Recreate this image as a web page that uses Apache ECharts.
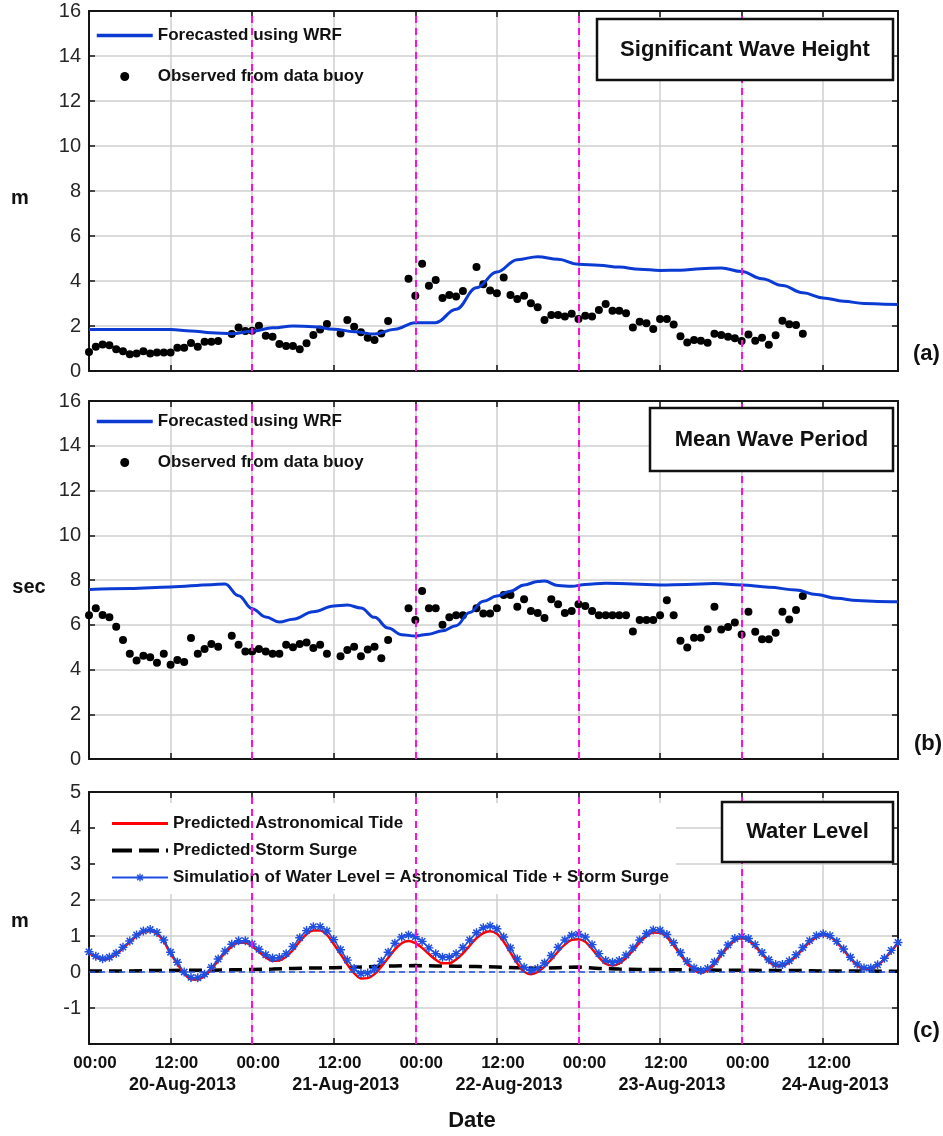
<!DOCTYPE html>
<html>
<head>
<meta charset="utf-8">
<script src="https://cdn.jsdelivr.net/npm/echarts@6/dist/echarts.min.js"></script>
<style>
  html, body { margin: 0; padding: 0; background: #ffffff; }
  #chart { width: 943px; height: 1136px; }
</style>
</head>
<body>
<div id="chart"></div>
<script>
// ---- data: hours since 20-Aug-2013 00:00 ----
const dayLabels = ['20-Aug-2013', '21-Aug-2013', '22-Aug-2013', '23-Aug-2013', '24-Aug-2013'];
const dividerHours = [24, 48, 72, 96];

// Significant wave height (m)
const fcHoursA = [0,3,6,9,12,15,18,21,24,27,30,33,36,39,42,45,48,51,54,57,60,63,66,69,72,75,78,81,84,87,90,93,96,99,102,105,108,111,114,117,119];
const fcHs = [1.85,1.85,1.85,1.85,1.84,1.78,1.70,1.66,1.77,1.92,2.00,1.97,1.86,1.75,1.64,1.86,2.15,2.15,2.75,3.70,4.40,4.95,5.08,4.97,4.74,4.70,4.62,4.52,4.47,4.48,4.55,4.58,4.42,4.10,3.80,3.48,3.25,3.10,3.00,2.97,2.96];
// hourly buoy observations from hour 0 to 105 (null = no record)
const obsHs = [0.85,1.08,1.18,1.15,0.97,0.88,0.75,0.78,0.88,0.78,
  0.82,0.82,0.82,1.03,1.03,1.25,1.08,1.30,1.30,1.33,
  null,1.64,1.93,1.78,1.79,2.01,1.57,1.52,1.20,1.11,
  1.11,0.97,1.23,1.60,1.85,2.09,null,1.67,2.27,1.97,
  1.72,1.48,1.38,1.67,2.22,null,null,4.10,3.35,4.77,
  3.79,4.05,3.24,3.38,3.31,3.56,null,4.62,3.86,3.58,
  3.46,4.16,3.38,3.20,3.34,3.01,2.83,2.27,2.49,2.49,
  2.42,2.54,2.31,2.46,2.42,2.71,2.98,2.68,2.68,2.57,
  1.93,2.19,2.12,1.87,2.31,2.31,2.07,1.55,1.27,1.38,
  1.35,1.26,1.66,1.60,1.52,1.46,1.33,1.62,1.34,1.48,
  1.17,1.59,2.23,2.08,2.04,1.66];

// Mean wave period (sec)
const fcHoursB = [0,6,12,18,20,22,24,26,28,30,33,36,38,40,42,44,46,48,50,52,54,56,58,60,62,64,66,67,69,71,73,76,80,84,88,92,96,100,104,107,110,113,116,119];
const fcTm = [7.58,7.62,7.69,7.79,7.82,7.30,6.72,6.35,6.12,6.25,6.58,6.84,6.88,6.75,6.33,5.85,5.55,5.50,5.58,5.73,5.96,6.55,7.05,7.28,7.50,7.78,7.93,7.95,7.75,7.72,7.80,7.86,7.82,7.78,7.80,7.84,7.78,7.68,7.55,7.35,7.18,7.08,7.04,7.03];
const obsTm = [6.43,6.74,6.44,6.33,5.91,5.32,4.70,4.40,4.62,4.55,
  4.30,4.70,4.21,4.43,4.33,5.41,4.70,4.92,5.14,5.02,
  null,5.51,5.11,4.81,4.81,4.92,4.81,4.70,4.70,5.11,
  4.99,5.14,5.21,4.96,5.11,4.70,null,4.59,4.87,5.02,
  4.59,4.89,5.02,4.50,5.32,null,null,6.74,6.21,7.51,
  6.74,6.74,6.00,6.33,6.43,6.43,null,6.74,6.50,6.50,
  6.74,7.33,7.33,6.81,7.14,6.62,6.52,6.30,7.14,6.92,
  6.52,6.62,6.92,6.84,6.62,6.43,6.43,6.43,6.43,6.43,
  5.70,6.21,6.21,6.21,6.43,7.10,6.42,5.29,4.98,5.42,
  5.42,5.80,6.81,5.79,5.90,6.10,5.56,6.58,5.69,5.35,
  5.35,5.64,6.58,6.24,6.66,7.28];

// Water level (m), hourly from hour 0 to 119
const tide = [0.53,0.41,0.34,0.38,0.49,0.66,0.83,1.00,1.11,1.14,
  1.06,0.85,0.51,0.23,-0.04,-0.20,-0.21,-0.11,0.08,0.31,
  0.53,0.71,0.81,0.81,0.71,0.56,0.41,0.31,0.32,0.42,
  0.61,0.85,1.05,1.15,1.15,1.03,0.78,0.50,0.21,-0.03,
  -0.18,-0.17,-0.06,0.15,0.39,0.63,0.80,0.86,0.80,0.67,
  0.50,0.34,0.24,0.24,0.35,0.52,0.73,0.94,1.08,1.13,
  1.06,0.84,0.54,0.24,0.01,-0.06,0.00,0.15,0.35,0.57,
  0.76,0.89,0.91,0.84,0.64,0.41,0.23,0.18,0.24,0.39,
  0.59,0.82,1.00,1.10,1.09,0.97,0.74,0.48,0.23,0.05,
  -0.02,0.04,0.22,0.47,0.70,0.88,0.94,0.88,0.71,0.50,
  0.30,0.17,0.17,0.27,0.44,0.64,0.83,0.97,1.03,0.98,
  0.82,0.61,0.38,0.19,0.08,0.09,0.18,0.36,0.58,0.80];
const simLevel = [0.56,0.44,0.37,0.41,0.52,0.69,0.86,1.03,1.14,1.18,
  1.10,0.89,0.55,0.27,0.00,-0.15,-0.16,-0.06,0.13,0.36,
  0.58,0.77,0.87,0.87,0.78,0.63,0.48,0.39,0.40,0.51,
  0.71,0.95,1.15,1.26,1.26,1.14,0.90,0.62,0.33,0.10,
  -0.04,-0.03,0.09,0.30,0.55,0.80,0.97,1.03,0.98,0.85,
  0.67,0.51,0.41,0.41,0.51,0.68,0.89,1.09,1.23,1.28,
  1.20,0.97,0.67,0.36,0.13,0.05,0.10,0.25,0.46,0.69,
  0.89,1.02,1.05,0.97,0.76,0.51,0.32,0.27,0.32,0.47,
  0.67,0.89,1.07,1.17,1.16,1.04,0.81,0.54,0.29,0.11,
  0.04,0.10,0.28,0.52,0.75,0.93,0.99,0.93,0.76,0.54,
  0.34,0.21,0.21,0.31,0.48,0.68,0.87,1.01,1.06,1.01,
  0.85,0.64,0.41,0.22,0.11,0.11,0.20,0.38,0.60,0.82];
const surgeHours = [0,3,6,9,12,15,18,21,24,27,30,33,36,39,42,45,48,51,54,57,60,63,66,69,72,75,78,81,84,87,90,93,96,99,102,105,108,111,114,117,119];
const surge = [0.03,0.03,0.03,0.04,0.04,0.05,0.05,0.06,0.07,0.08,0.10,0.11,0.12,0.13,0.15,0.17,0.18,0.17,0.16,0.15,0.14,0.12,0.10,0.12,0.14,0.10,0.08,0.07,0.07,0.06,0.06,0.05,0.05,0.04,0.04,0.04,0.03,0.03,0.03,0.02,0.02];

// ---- helpers ----
const FONT = "'Liberation Sans', Arial, Helvetica, sans-serif";
const pairs = (xs, ys) => ys.map((v, i) => [xs[i], v]);
const hourly = ys => ys.map((v, i) => [i, v]).filter(p => p[1] !== null);

// asterisk marker (plus + cross bars)
const STAR = 'path://M0 4.2L10 4.2L10 5.8L0 5.8Z M4.2 0L5.8 0L5.8 10L4.2 10Z M0.9 2.1L2.1 0.9L9.1 7.9L7.9 9.1Z M7.9 0.9L9.1 2.1L2.1 9.1L0.9 7.9Z';

const grids = [
  { left: 89, top: 11, width: 809, height: 360 },
  { left: 89, top: 401, width: 809, height: 358 },
  { left: 89, top: 792, width: 809, height: 252 }
];
const yRanges = [
  { min: 0, max: 16, interval: 2 },
  { min: 0, max: 16, interval: 2 },
  { min: -2, max: 5, interval: 1 }
];

const AXIS_COLOR = '#151515';
const GRID_COLOR = '#cfcfcf';
const xAxes = [];
const yAxes = [];
grids.forEach((g, k) => {
  const bottomLabels = k === 2;
  xAxes.push({
    gridIndex: k, type: 'value', position: 'bottom', min: 0, max: 119, interval: 12,
    axisLine: { onZero: false, lineStyle: { color: AXIS_COLOR, width: 2 } },
    axisTick: { inside: true, length: 6, lineStyle: { color: AXIS_COLOR, width: 1.5 } },
    splitLine: { show: true, lineStyle: { color: GRID_COLOR, width: 1.5 } },
    axisLabel: bottomLabels ? {
      show: true, margin: 11, showMinLabel: true, showMaxLabel: false,
      fontFamily: FONT, fontSize: 17, fontWeight: 'bold', color: '#111', padding: [0, 0, 0, 12],
      formatter: v => {
        if (v % 12 !== 0 || v > 108) return '';
        return v % 24 === 0 ? '00:00' : '12:00';
      }
    } : { show: false }
  });
  xAxes.push({
    gridIndex: k, type: 'value', position: 'top', min: 0, max: 119, interval: 12,
    axisLine: { onZero: false, lineStyle: { color: AXIS_COLOR, width: 2 } },
    axisTick: { inside: true, length: 6, lineStyle: { color: AXIS_COLOR, width: 1.5 } },
    splitLine: { show: false }, axisLabel: { show: false }
  });
  const r = yRanges[k];
  yAxes.push({
    gridIndex: k, type: 'value', position: 'left', min: r.min, max: r.max, interval: r.interval,
    axisLine: { onZero: false, lineStyle: { color: AXIS_COLOR, width: 2 } },
    axisTick: { inside: true, length: 6, lineStyle: { color: AXIS_COLOR, width: 1.5 } },
    splitLine: { show: true, lineStyle: { color: GRID_COLOR, width: 1.5 } },
    axisLabel: {
      fontFamily: FONT, fontSize: 20, color: '#262626', margin: 8,
      formatter: v => (k === 2 && v === -2) ? '' : String(v)
    }
  });
  yAxes.push({
    gridIndex: k, type: 'value', position: 'right', min: r.min, max: r.max, interval: r.interval,
    axisLine: { onZero: false, lineStyle: { color: AXIS_COLOR, width: 2 } },
    axisTick: { inside: true, length: 6, lineStyle: { color: AXIS_COLOR, width: 1.5 } },
    splitLine: { show: false }, axisLabel: { show: false }
  });
});
// date row under the noon ticks of the bottom panel
xAxes.push({
  gridIndex: 2, type: 'value', position: 'bottom', min: 0, max: 119, interval: 12,
  axisLine: { show: false, onZero: false }, axisTick: { show: false }, splitLine: { show: false },
  axisLabel: {
    show: true, margin: 32, showMinLabel: true, showMaxLabel: false,
    fontFamily: FONT, fontSize: 18, fontWeight: 'bold', color: '#111', padding: [0, 0, 0, 24],
    formatter: v => (v % 24 === 12 && v <= 108) ? dayLabels[Math.floor(v / 24)] : ''
  }
});

// day-boundary markers for each panel
const dividerSeries = k => ({
  type: 'line', xAxisIndex: 2 * k, yAxisIndex: 2 * k, data: [], z: 3, silent: true,
  markLine: {
    silent: true, symbol: ['none', 'none'], label: { show: false }, animation: false,
    lineStyle: { color: '#ff10d8', width: 2, type: [7, 5] },
    data: dividerHours.map(h => ({ xAxis: h }))
  }
});

const FC_BLUE = '#0b3bd3';
const SIM_BLUE = '#1f4fe0';

const series = [
  // (a) significant wave height
  { name: 'Forecasted using WRF', type: 'line', xAxisIndex: 0, yAxisIndex: 0, data: pairs(fcHoursA, fcHs),
    smooth: 0.4, smoothMonotone: 'x', showSymbol: false, symbol: 'none', lineStyle: { color: FC_BLUE, width: 3 }, itemStyle: { color: FC_BLUE } },
  { name: 'Observed from data buoy', type: 'scatter', xAxisIndex: 0, yAxisIndex: 0, data: hourly(obsHs),
    symbol: 'circle', symbolSize: 8, itemStyle: { color: '#000', opacity: 1 } },
  dividerSeries(0),
  // (b) mean wave period
  { name: 'Forecasted using WRF', type: 'line', xAxisIndex: 2, yAxisIndex: 2, data: pairs(fcHoursB, fcTm),
    smooth: 0.4, smoothMonotone: 'x', showSymbol: false, symbol: 'none', lineStyle: { color: FC_BLUE, width: 3 }, itemStyle: { color: FC_BLUE } },
  { name: 'Observed from data buoy', type: 'scatter', xAxisIndex: 2, yAxisIndex: 2, data: hourly(obsTm),
    symbol: 'circle', symbolSize: 8, itemStyle: { color: '#000', opacity: 1 } },
  dividerSeries(1),
  // (c) water level
  { type: 'line', xAxisIndex: 4, yAxisIndex: 4, data: [], z: 1, silent: true,
    markLine: { silent: true, symbol: ['none', 'none'], label: { show: false }, animation: false,
      lineStyle: { color: '#1f4fe0', width: 1.5, type: [6, 4] }, data: [{ yAxis: 0 }] } },
  { name: 'Predicted Storm Surge', type: 'line', xAxisIndex: 4, yAxisIndex: 4, data: pairs(surgeHours, surge),
    showSymbol: false, symbol: 'none', lineStyle: { color: '#000', width: 3.5, type: [13, 7] }, itemStyle: { color: '#000' } },
  { name: 'Predicted Astronomical Tide', type: 'line', xAxisIndex: 4, yAxisIndex: 4, data: hourly(tide),
    smooth: 0.3, showSymbol: false, symbol: 'none', lineStyle: { color: '#ff0000', width: 2.5 }, itemStyle: { color: '#ff0000' } },
  { name: 'Simulation of Water Level = Astronomical Tide + Storm Surge', type: 'line', xAxisIndex: 4, yAxisIndex: 4, data: hourly(simLevel),
    smooth: 0.3, symbol: STAR, symbolSize: 9, showSymbol: true, showAllSymbol: true,
    lineStyle: { color: SIM_BLUE, width: 1.5 }, itemStyle: { color: SIM_BLUE } },
  dividerSeries(2)
];

const legendText = { fontFamily: FONT, fontSize: 17, fontWeight: 'bold', color: '#111' };
const lineOnly = (name, width) => ({ name: name, itemStyle: { opacity: 0 }, lineStyle: { width: width } });
const legends = [
  { left: 95, top: 27, z: 5, orient: 'vertical', padding: 0, itemWidth: 56, itemHeight: 9, itemGap: 24,
    textStyle: legendText, selectedMode: false,
    data: [lineOnly('Forecasted using WRF', 3.5), 'Observed from data buoy'] },
  { left: 95, top: 413, z: 5, orient: 'vertical', padding: 0, itemWidth: 56, itemHeight: 9, itemGap: 24,
    textStyle: legendText, selectedMode: false,
    data: [lineOnly('Forecasted using WRF', 3.5), 'Observed from data buoy'] },
  { left: 95, top: 803, z: 5, orient: 'vertical', padding: [12, 7, 8, 15], itemWidth: 56, itemHeight: 10, itemGap: 10,
    backgroundColor: '#ffffff', textStyle: legendText, selectedMode: false,
    data: [
      lineOnly('Predicted Astronomical Tide', 3),
      { name: 'Predicted Storm Surge', itemStyle: { opacity: 0 }, lineStyle: { type: [20, 7], width: 4 } },
      'Simulation of Water Level = Astronomical Tide + Storm Surge'
    ] }
];

// panel title boxes and annotations
const titleBox = (x, y, w, h, text) => ({
  type: 'group', z: 100,
  children: [
    { type: 'rect', z: 100, shape: { x: x, y: y, width: w, height: h }, style: { fill: '#fff', stroke: '#111', lineWidth: 2.5 } },
    { type: 'text', z: 101, x: x + w / 2, y: y + h / 2, style: { text: text, font: 'bold 22px ' + FONT, fill: '#111', align: 'center', verticalAlign: 'middle' } }
  ]
});
const label = (x, y, text, size, align) => ({
  type: 'text', x: x, y: y, z: 100,
  style: { text: text, font: 'bold ' + size + 'px ' + FONT, fill: '#111', align: align || 'center', verticalAlign: 'middle' }
});

const graphic = [
  titleBox(597, 19, 296, 61, 'Significant Wave Height'),
  titleBox(650, 408, 243, 63, 'Mean Wave Period'),
  titleBox(722, 802, 171, 60, 'Water Level'),
  label(20, 198, 'm', 20),
  label(29, 587, 'sec', 20),
  label(20, 921, 'm', 20),
  label(913, 354, '(a)', 22, 'left'),
  label(914, 744, '(b)', 22, 'left'),
  label(913, 1031, '(c)', 22, 'left'),
  label(472, 1121, 'Date', 22)
];

const chart = echarts.init(document.getElementById('chart'), null, { renderer: 'canvas' });
chart.setOption({
  animation: false,
  backgroundColor: '#ffffff',
  grid: grids,
  xAxis: xAxes,
  yAxis: yAxes,
  legend: legends,
  series: series,
  graphic: graphic
});
</script>
</body>
</html>
